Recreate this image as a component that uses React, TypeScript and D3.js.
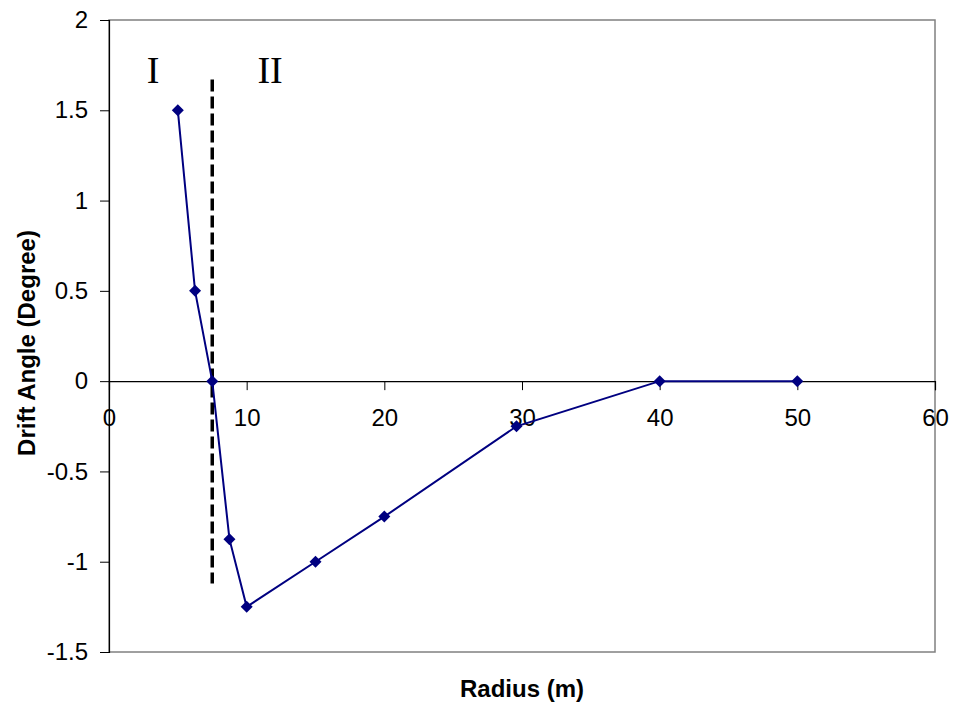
import { useEffect, useRef } from "react";
import * as d3 from "d3";

// ─── Data ─────────────────────────────────────────────────────────────────────

const RADIUS = [5, 6.25, 7.5, 8.75, 10, 15, 20, 29.6, 40, 50];
const DRIFT = [1.5, 0.5, 0, -0.875, -1.25, -1, -0.75, -0.25, 0, 0];

const X_TICKS = [0, 10, 20, 30, 40, 50, 60];
const Y_TICKS = [2, 1.5, 1, 0.5, 0, -0.5, -1, -1.5];

// boundary between region I and II
const BOUNDARY_X = 7.5;
const BOUNDARY_Y = [1.67, -1.12];

const NAVY = "#000080";
const FONT = "Arial, 'Liberation Sans', sans-serif";
const SERIF = "'Liberation Serif', 'Times New Roman', serif";

export default function App() {
  const svgRef = useRef<SVGSVGElement>(null);

  useEffect(() => {
    if (!svgRef.current) return;
    const W = 953,
      H = 709;
    const m = { top: 20, right: 18, bottom: 57, left: 109 };
    const iw = W - m.left - m.right;
    const ih = H - m.top - m.bottom;

    const svg = d3.select(svgRef.current);
    svg.selectAll("*").remove();

    const g = svg
      .append("g")
      .attr("transform", `translate(${m.left},${m.top})`);

    const x = d3.scaleLinear().domain([0, 60]).range([0, iw]);
    const y = d3.scaleLinear().domain([-1.5, 2]).range([ih, 0]);

    // plot area border (grey)
    g.append("rect")
      .attr("x", 0)
      .attr("y", 0)
      .attr("width", iw)
      .attr("height", ih)
      .attr("fill", "none")
      .attr("stroke", "#808080")
      .attr("stroke-width", 1.5);

    // Y axis
    g.append("g")
      .call(
        d3
          .axisLeft(y)
          .tickValues(Y_TICKS)
          .tickSize(9)
          .tickPadding(12)
          .tickFormat((d) => String(d)),
      )
      .call((ax) => {
        ax.select(".domain").attr("stroke", "#000").attr("stroke-width", 1.2);
        ax.selectAll(".tick line").attr("stroke", "#000");
        ax.selectAll(".tick text")
          .attr("fill", "#000")
          .attr("font-size", 24)
          .attr("font-family", FONT);
      });

    // X axis at y = 0
    g.append("g")
      .attr("transform", `translate(0,${y(0)})`)
      .call(
        d3
          .axisBottom(x)
          .tickValues(X_TICKS)
          .tickSize(9)
          .tickPadding(19)
          .tickFormat((d) => String(d)),
      )
      .call((ax) => {
        ax.select(".domain").attr("stroke", "#000").attr("stroke-width", 1.2);
        ax.selectAll(".tick line").attr("stroke", "#000");
        ax.selectAll(".tick text")
          .attr("fill", "#000")
          .attr("font-size", 24)
          .attr("font-family", FONT);
      });

    // boundary dashed line
    g.append("line")
      .attr("x1", x(BOUNDARY_X))
      .attr("x2", x(BOUNDARY_X))
      .attr("y1", y(BOUNDARY_Y[0]))
      .attr("y2", y(BOUNDARY_Y[1]))
      .attr("stroke", "#000")
      .attr("stroke-width", 3.5)
      .attr("stroke-dasharray", "12,5");

    // series line
    const pts = RADIUS.map((r, i) => [r, DRIFT[i]] as [number, number]);
    g.append("path")
      .datum(pts)
      .attr("fill", "none")
      .attr("stroke", NAVY)
      .attr("stroke-width", 2)
      .attr(
        "d",
        d3
          .line<[number, number]>()
          .x((d) => x(d[0]))
          .y((d) => y(d[1])),
      );

    // diamond markers
    const s = 6;
    g.selectAll(".mk")
      .data(pts)
      .enter()
      .append("path")
      .attr("class", "mk")
      .attr(
        "d",
        (d) =>
          `M${x(d[0])},${y(d[1]) - s}L${x(d[0]) + s},${y(d[1])}L${x(d[0])},${y(d[1]) + s}L${x(d[0]) - s},${y(d[1])}Z`,
      )
      .attr("fill", NAVY);

    // region labels
    g.append("text")
      .attr("x", x(3.2))
      .attr("y", y(1.65))
      .attr("text-anchor", "middle")
      .attr("font-family", SERIF)
      .attr("font-size", 38)
      .text("I");
    g.append("text")
      .attr("x", x(11.7))
      .attr("y", y(1.65))
      .attr("text-anchor", "middle")
      .attr("font-family", SERIF)
      .attr("font-size", 38)
      .text("II");

    // axis titles
    svg
      .append("text")
      .attr("x", m.left + iw / 2)
      .attr("y", 697)
      .attr("text-anchor", "middle")
      .attr("font-family", FONT)
      .attr("font-weight", "bold")
      .attr("font-size", 24)
      .text("Radius (m)");

    svg
      .append("text")
      .attr("transform", `translate(35,343) rotate(-90)`)
      .attr("text-anchor", "middle")
      .attr("font-family", FONT)
      .attr("font-weight", "bold")
      .attr("font-size", 24)
      .text("Drift Angle (Degree)");
  }, []);

  return (
    <svg
      ref={svgRef}
      width={953}
      height={709}
      style={{ display: "block", position: "absolute", left: 0, top: 0, background: "#fff" }}
    />
  );
}
